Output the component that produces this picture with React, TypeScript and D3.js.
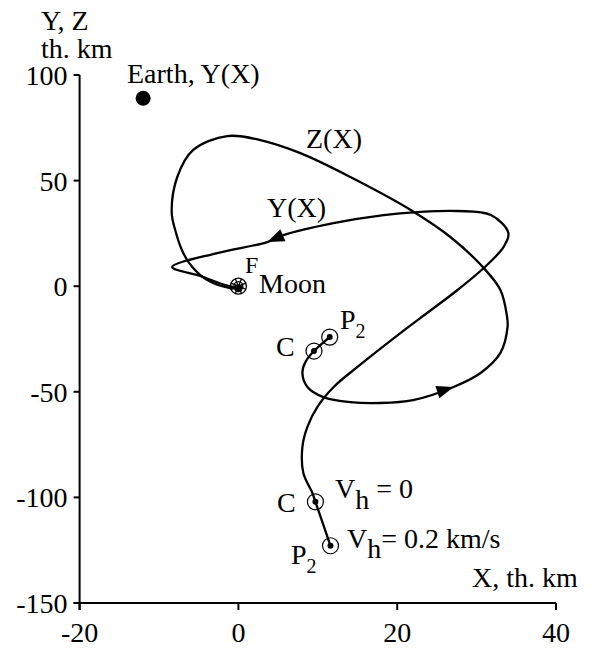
import React from "react";
import * as d3 from "d3";

// Trajectory projections, thousands of km, from the Moon outward
const zCurve: [number, number][] = [
  [0.1, -0.8], [-1.02, -0.85], [-3.92, 2.93], [-5.81, 9.09], [-6.95, 15.7], [-7.96, 26.6],
  [-8.4, 35.0], [-7.7, 51.7], [-5.69, 64.5], [-1.4, 71.1], [2.76, 69.2],
  [7.81, 63.0], [14.1, 51.7], [21.7, 36.1], [26.7, 23.3], [30.9, 8.6], [33.0, -1.8],
  [33.8, -13.6], [33.9, -19.3], [33.0, -31.6], [30.5, -41.1], [27.1, -47.7],
  [22.0, -53.9], [17.9, -55.3], [14.1, -54.9], [10.7, -52.5], [8.69, -47.7],
  [8.06, -41.1], [8.44, -35.9], [9.52, -30.7], [11.5, -24.1],
];

const yCurve: [number, number][] = [
  [0.1, -0.8], [-1.65, 0.57], [-4.8, 4.83], [-8.34, 9.09], [-2.66, 15.7], [3.64, 20.9],
  [5.66, 24.2], [11.97, 29.9], [18.3, 33.7], [22.6, 35.1], [27.6, 35.6], [31.8, 33.7],
  [34.0, 25.2], [33.4, 18.6], [30.9, 8.6], [27.6, -1.8], [22.9, -15.1], [20.4, -22.2],
  [15.0, -38.2], [12.0, -47.7], [9.95, -57.1], [8.69, -66.6], [8.06, -76.1],
  [8.18, -88.4], [9.32, -97.9], [9.7, -102.1], [11.6, -122.9],
];

// Arrow heads: curve, tip vertex, vertex the arrow comes from
const arrows = [
  { curve: "y", tip: 5, from: 6 },
  { curve: "z", tip: 21, from: 22 },
];

const earth: [number, number] = [-12, 89];
const moon: [number, number] = [0, 0];

// Marked points: upper pair on Z(X), lower pair on Y(X)
const markers: [number, number][] = [
  [9.52, -30.7], [11.5, -24.1], [9.7, -102.1], [11.6, -122.9],
];

const xTicks = [-20, 0, 20, 40];
const yTicks = [-150, -100, -50, 0, 50, 100];

const W = 595;
const H = 648;
const FONT = "'Liberation Serif', 'Times New Roman', serif";

export default function App() {
  const x = d3.scaleLinear().domain([-20, 40]).range([79.6, 556]);
  const y = d3.scaleLinear().domain([-150, 100]).range([603, 75]);

  const line = d3
    .line<[number, number]>()
    .x((d) => x(d[0]))
    .y((d) => y(d[1]))
    .curve(d3.curveCatmullRom.alpha(0.5));

  const curves: Record<string, [number, number][]> = { y: yCurve, z: zCurve };

  const arrowPaths = arrows.map((a) => {
    const pts = curves[a.curve];
    const [tx, ty] = [x(pts[a.tip][0]), y(pts[a.tip][1])];
    const [fx, fy] = [x(pts[a.from][0]), y(pts[a.from][1])];
    const ang = Math.atan2(ty - fy, tx - fx);
    const len = 17;
    const half = 6.5;
    const bx = tx - len * Math.cos(ang);
    const by = ty - len * Math.sin(ang);
    const px = -Math.sin(ang) * half;
    const py = Math.cos(ang) * half;
    return `M${tx},${ty}L${bx + px},${by + py}L${bx - px},${by - py}Z`;
  });

  const mx = x(moon[0]);
  const my = y(moon[1]);
  const spokes = d3.range(8).map((i) => (i * Math.PI) / 4 + Math.PI / 8);

  const fs = 28;
  const sub = 20;

  return (
    <svg width={W} height={H} style={{ position: "absolute", left: 0, top: 0 }} fontFamily={FONT}>
      <rect width={W} height={H} fill="#fff" />

      {/* axes */}
      <g stroke="#000" strokeWidth={2} fill="none">
        <line x1={x(-20)} x2={x(-20)} y1={y(100)} y2={y(-150) + 7} />
        <line x1={x(-20) - 6} x2={x(40)} y1={y(-150)} y2={y(-150)} />
        {yTicks.map((t) => (
          <line key={`yt${t}`} x1={x(-20) - 6} x2={x(-20)} y1={y(t)} y2={y(t)} />
        ))}
        {xTicks.map((t) => (
          <line key={`xt${t}`} x1={x(t)} x2={x(t)} y1={y(-150)} y2={y(-150) + 7} />
        ))}
      </g>
      <g fontSize={fs} fill="#000">
        {yTicks.map((t) => (
          <text key={`yl${t}`} x={x(-20) - 12} y={y(t) + 10} textAnchor="end">
            {t}
          </text>
        ))}
        {xTicks.map((t) => (
          <text key={`xl${t}`} x={x(t)} y={642} textAnchor="middle">
            {t}
          </text>
        ))}
        <text x={41} y={30}>Y, Z</text>
        <text x={41} y={58}>th. km</text>
        <text x={472} y={587}>X, th. km</text>
      </g>

      {/* trajectories */}
      <path d={line(zCurve) ?? ""} fill="none" stroke="#000" strokeWidth={2.3} />
      <path d={line(yCurve) ?? ""} fill="none" stroke="#000" strokeWidth={2.3} />
      {arrowPaths.map((d, i) => (
        <path key={`ar${i}`} d={d} fill="#000" />
      ))}

      {/* Earth */}
      <circle cx={x(earth[0])} cy={y(earth[1])} r={7.5} fill="#000" />

      {/* Moon */}
      <g stroke="#000" strokeWidth={1.3} fill="none">
        <circle cx={mx} cy={my} r={8} />
        <circle cx={mx} cy={my} r={4.5} />
        {spokes.map((a, i) => (
          <line key={`sp${i}`} x1={mx} y1={my} x2={mx + 8 * Math.cos(a)} y2={my + 8 * Math.sin(a)} />
        ))}
      </g>
      <circle cx={mx} cy={my + 2} r={4} fill="#000" />

      {/* marked points */}
      {markers.map((m, i) => (
        <g key={`mk${i}`}>
          <circle cx={x(m[0])} cy={y(m[1])} r={8} fill="none" stroke="#000" strokeWidth={1.2} />
          <circle cx={x(m[0])} cy={y(m[1])} r={3} fill="#000" />
        </g>
      ))}

      {/* labels */}
      <g fontSize={fs} fill="#000">
        <text x={127} y={83}>Earth, Y(X)</text>
        <text x={306} y={148}>Z(X)</text>
        <text x={267} y={217}>Y(X)</text>
        <text x={245} y={273} fontSize={24}>F</text>
        <text x={259} y={293}>Moon</text>
        <text x={276} y={356}>C</text>
        <text x={340} y={329}>
          P<tspan fontSize={sub} dy={9}>2</tspan>
        </text>
        <text x={277} y={512}>C</text>
        <text x={335} y={498}>
          V<tspan dy={11}>h</tspan>
          <tspan dy={-11}> = 0</tspan>
        </text>
        <text x={347} y={548}>
          V<tspan dy={10}>h</tspan>
          <tspan dy={-10}>= 0.2 km/s</tspan>
        </text>
        <text x={291} y={564}>
          P<tspan fontSize={sub} dy={9}>2</tspan>
        </text>
      </g>
    </svg>
  );
}
